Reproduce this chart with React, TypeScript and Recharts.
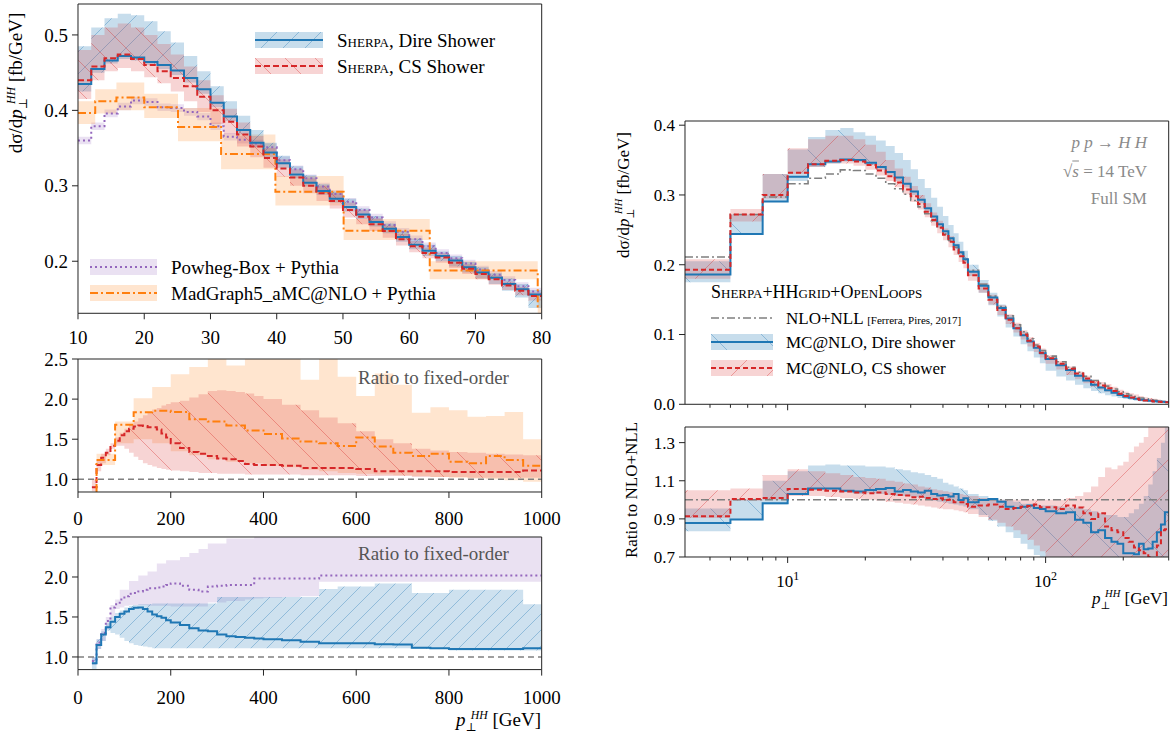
import React from 'react';
import { ComposedChart, Area, Line, XAxis, YAxis, ReferenceLine } from 'recharts';

const SERIF = '"Liberation Serif", "DejaVu Serif", serif';
const BLUE = '#1f77b4';
const RED = '#d62728';
const ORANGE = '#ff7f0e';
const PURPLE = '#9467bd';
const GREY = '#7f7f7f';
const FRAME = '#222';

// ---------- left top: dσ/dpT, 10-80 GeV ----------
const sherpaEdges = [10, 12, 14, 16, 18, 20, 22, 24, 26, 28, 30, 32, 34, 36, 38, 40, 42, 44, 46, 48, 50, 52, 54, 56, 58, 60, 62, 64, 66, 68, 70, 72, 74, 76, 78, 80];
const direVals = [0.435, 0.455, 0.466, 0.472, 0.470, 0.464, 0.460, 0.453, 0.443, 0.428, 0.410, 0.392, 0.374, 0.357, 0.344, 0.330, 0.315, 0.304, 0.293, 0.283, 0.272, 0.262, 0.252, 0.243, 0.232, 0.222, 0.214, 0.207, 0.201, 0.192, 0.185, 0.178, 0.170, 0.163, 0.156];
const direLo = [0.425, 0.45, 0.462, 0.468, 0.466, 0.46, 0.455, 0.447, 0.437, 0.422, 0.404, 0.386, 0.368, 0.351, 0.338, 0.324, 0.31, 0.299, 0.288, 0.278, 0.266, 0.256, 0.246, 0.237, 0.226, 0.216, 0.207, 0.2, 0.193, 0.185, 0.177, 0.17, 0.161, 0.152, 0.138];
const direHi = [0.485, 0.51, 0.522, 0.528, 0.526, 0.518, 0.505, 0.49, 0.472, 0.452, 0.432, 0.412, 0.393, 0.374, 0.357, 0.34, 0.326, 0.314, 0.302, 0.292, 0.283, 0.27, 0.26, 0.25, 0.24, 0.23, 0.222, 0.213, 0.207, 0.199, 0.192, 0.184, 0.177, 0.17, 0.162];
const csVals = [0.44, 0.458, 0.469, 0.474, 0.468, 0.460, 0.452, 0.443, 0.432, 0.418, 0.400, 0.385, 0.368, 0.352, 0.337, 0.323, 0.311, 0.300, 0.290, 0.280, 0.268, 0.259, 0.249, 0.240, 0.229, 0.220, 0.211, 0.205, 0.198, 0.190, 0.183, 0.176, 0.168, 0.161, 0.154];
const csLo = [0.415, 0.44, 0.452, 0.456, 0.452, 0.444, 0.436, 0.425, 0.412, 0.398, 0.382, 0.368, 0.352, 0.338, 0.324, 0.312, 0.3, 0.29, 0.28, 0.27, 0.258, 0.249, 0.24, 0.231, 0.221, 0.212, 0.204, 0.198, 0.191, 0.183, 0.176, 0.169, 0.162, 0.155, 0.148];
const csHi = [0.48, 0.5, 0.51, 0.515, 0.51, 0.5, 0.488, 0.474, 0.458, 0.44, 0.42, 0.402, 0.384, 0.366, 0.35, 0.335, 0.322, 0.31, 0.3, 0.29, 0.278, 0.268, 0.257, 0.247, 0.236, 0.227, 0.218, 0.211, 0.204, 0.196, 0.189, 0.181, 0.173, 0.166, 0.159];
const powhegVals = [0.360, 0.379, 0.396, 0.405, 0.413, 0.411, 0.404, 0.403, 0.398, 0.392, 0.379, 0.365, 0.361, 0.356, 0.351, 0.334, 0.322, 0.31, 0.299, 0.289, 0.279, 0.268, 0.258, 0.248, 0.239, 0.229, 0.22, 0.211, 0.204, 0.197, 0.189, 0.182, 0.175, 0.167, 0.16];
const powhegLo = [0.355, 0.374, 0.391, 0.4, 0.408, 0.406, 0.399, 0.398, 0.393, 0.387, 0.374, 0.36, 0.356, 0.351, 0.346, 0.329, 0.317, 0.305, 0.294, 0.284, 0.274, 0.263, 0.253, 0.243, 0.234, 0.224, 0.215, 0.206, 0.199, 0.192, 0.184, 0.177, 0.17, 0.162, 0.155];
const powhegHi = [0.365, 0.384, 0.401, 0.41, 0.418, 0.416, 0.409, 0.408, 0.403, 0.397, 0.384, 0.37, 0.366, 0.361, 0.356, 0.339, 0.327, 0.315, 0.304, 0.294, 0.284, 0.273, 0.263, 0.253, 0.244, 0.234, 0.225, 0.216, 0.209, 0.202, 0.194, 0.187, 0.18, 0.172, 0.165];
const mgEdges = [10, 12.6, 15.8, 20, 25.1, 31.6, 39.8, 50.1, 63.1, 79.4, 100];
const mgVals = [0.3965, 0.412, 0.417, 0.404, 0.378, 0.342, 0.292, 0.2405, 0.1877, 0.14];
const mgLo = [0.382, 0.396, 0.400, 0.390, 0.359, 0.322, 0.274, 0.228, 0.176, 0.128];
const mgHi = [0.412, 0.428, 0.437, 0.422, 0.403, 0.368, 0.313, 0.256, 0.200, 0.150];

// ---------- left ratio panels: ratio to fixed order, 0-1000 GeV ----------
const foEdges = [30, 40, 50, 60, 70, 80, 90, 100, 110, 120, 130, 140, 150, 160, 170, 180, 190, 200, 220, 240, 260, 280, 300, 320, 340, 360, 380, 400, 440, 480, 520, 560, 600, 640, 680, 720, 760, 800, 840, 880, 920, 960, 1000];
const csFO = [0.90, 1.18, 1.27, 1.33, 1.42, 1.48, 1.55, 1.6, 1.63, 1.66, 1.67, 1.665, 1.65, 1.65, 1.62, 1.57, 1.52, 1.45, 1.39, 1.34, 1.32, 1.29, 1.26, 1.25, 1.23, 1.19, 1.18, 1.18, 1.17, 1.14, 1.14, 1.14, 1.13, 1.10, 1.10, 1.10, 1.10, 1.09, 1.09, 1.09, 1.09, 1.11];
const csFOLo = [0.85, 1.1, 1.2, 1.3, 1.38, 1.42, 1.42, 1.38, 1.33, 1.28, 1.24, 1.2, 1.18, 1.16, 1.14, 1.13, 1.12, 1.11, 1.1, 1.09, 1.08, 1.08, 1.07, 1.07, 1.07, 1.06, 1.06, 1.06, 1.06, 1.05, 1.05, 1.05, 1.04, 1.04, 1.04, 1.03, 1.03, 1.03, 1.02, 1.02, 1.02, 1.02];
const csFOHi = [1.0, 1.25, 1.32, 1.38, 1.45, 1.52, 1.58, 1.63, 1.68, 1.72, 1.76, 1.8, 1.84, 1.87, 1.89, 1.92, 1.94, 1.96, 1.98, 2.02, 2.06, 2.1, 2.11, 2.1, 2.09, 2.07, 2.04, 2.0, 1.93, 1.86, 1.77, 1.7, 1.6, 1.5, 1.45, 1.38, 1.36, 1.34, 1.33, 1.32, 1.31, 1.3];
const mgFOEdges = [30, 40, 80, 120, 160, 200, 240, 280, 320, 360, 400, 440, 480, 520, 560, 600, 640, 680, 720, 760, 800, 840, 880, 920, 960, 1000];
const mgFO = [0.7, 1.24, 1.68, 1.835, 1.855, 1.84, 1.75, 1.72, 1.67, 1.61, 1.565, 1.51, 1.47, 1.45, 1.415, 1.52, 1.41, 1.33, 1.29, 1.32, 1.22, 1.20, 1.29, 1.24, 1.17];
const mgFOLo = [0.6, 1.18, 1.45, 1.5, 1.45, 1.35, 1.3, 1.25, 1.22, 1.2, 1.17, 1.15, 1.12, 1.1, 1.08, 1.07, 1.06, 1.05, 1.04, 1.03, 1.02, 1.01, 1.0, 0.99, 0.97];
const mgFOHi = [0.8, 1.32, 1.72, 2.01, 2.15, 2.31, 2.40, 2.6, 2.42, 2.6, 2.6, 2.6, 2.24, 2.6, 2.28, 2.04, 2.32, 2.18, 1.83, 1.90, 1.86, 1.78, 1.79, 1.84, 1.50];
const direFO = [0.92, 1.15, 1.28, 1.37, 1.44, 1.50, 1.54, 1.57, 1.60, 1.615, 1.62, 1.60, 1.57, 1.53, 1.51, 1.49, 1.46, 1.43, 1.40, 1.36, 1.33, 1.32, 1.28, 1.26, 1.25, 1.24, 1.23, 1.22, 1.21, 1.19, 1.17, 1.17, 1.17, 1.16, 1.155, 1.115, 1.11, 1.10, 1.10, 1.10, 1.10, 1.11];
const direFOLo = [0.85, 1.1, 1.2, 1.33, 1.3, 1.28, 1.24, 1.2, 1.17, 1.15, 1.14, 1.13, 1.12, 1.11, 1.11, 1.11, 1.11, 1.11, 1.11, 1.11, 1.11, 1.11, 1.11, 1.11, 1.11, 1.11, 1.11, 1.11, 1.11, 1.11, 1.11, 1.11, 1.11, 1.11, 1.11, 1.1, 1.1, 1.08, 1.08, 1.08, 1.08, 1.08];
const direFOHi = [1.0, 1.22, 1.32, 1.42, 1.5, 1.55, 1.58, 1.62, 1.64, 1.65, 1.66, 1.66, 1.66, 1.67, 1.67, 1.67, 1.67, 1.67, 1.67, 1.67, 1.67, 1.67, 1.75, 1.75, 1.75, 1.75, 1.75, 1.75, 1.75, 1.75, 1.85, 1.88, 1.88, 1.92, 1.92, 1.8, 1.8, 1.84, 1.84, 1.84, 1.84, 1.66];
const powhegFO = [0.95, 1.18, 1.30, 1.45, 1.62, 1.66, 1.72, 1.76, 1.79, 1.80, 1.82, 1.84, 1.86, 1.86, 1.87, 1.88, 1.90, 1.92, 1.89, 1.84, 1.82, 1.88, 1.89, 1.90, 1.90, 1.90, 1.98, 1.98, 1.98, 1.98, 2.02, 2.02, 2.02, 2.02, 2.02, 2.02, 2.02, 2.02, 2.02, 2.02, 2.02, 2.02];
const powhegFOLo = [0.9, 1.1, 1.2, 1.35, 1.5, 1.6, 1.62, 1.64, 1.65, 1.65, 1.65, 1.65, 1.64, 1.64, 1.64, 1.64, 1.64, 1.63, 1.63, 1.63, 1.63, 1.68, 1.68, 1.7, 1.7, 1.72, 1.73, 1.74, 1.75, 1.76, 1.94, 1.94, 1.94, 1.94, 1.94, 1.94, 1.94, 1.94, 1.94, 1.94, 1.94, 1.94];
const powhegFOHi = [1.0, 1.22, 1.35, 1.5, 1.65, 1.72, 1.84, 1.84, 1.95, 1.95, 2.02, 2.02, 2.07, 2.07, 2.17, 2.17, 2.21, 2.21, 2.25, 2.3, 2.35, 2.42, 2.42, 2.48, 2.48, 2.48, 2.6, 2.6, 2.6, 2.6, 2.6, 2.6, 2.6, 2.6, 2.6, 2.6, 2.6, 2.6, 2.6, 2.6, 2.6, 2.6];

// ---------- right panels: log pT, 4-300 GeV ----------
const rEdges = [4, 6, 8, 10, 12, 14, 16, 18, 20, 22, 24, 26, 28, 30, 32, 34, 36, 38, 40, 42, 44, 46, 48, 50, 55, 60, 65, 70, 75, 80, 85, 90, 95, 100, 110, 120, 130, 140, 150, 160, 170, 180, 190, 200, 210, 220, 230, 240, 250, 260, 270, 280, 290, 300];
const nllTop = [0.211, 0.272, 0.297, 0.316, 0.324, 0.330, 0.336, 0.335, 0.330, 0.324, 0.316, 0.309, 0.301, 0.292, 0.283, 0.273, 0.263, 0.254, 0.244, 0.235, 0.225, 0.216, 0.207, 0.192, 0.172, 0.155, 0.140, 0.127, 0.114, 0.104, 0.094, 0.085, 0.077, 0.069, 0.061, 0.053, 0.046, 0.040, 0.034, 0.030, 0.026, 0.022, 0.018, 0.015, 0.013, 0.011, 0.009, 0.0078, 0.0066, 0.0056, 0.0047, 0.004, 0.0034];
const direTop = [0.186, 0.244, 0.2905, 0.326, 0.344, 0.348, 0.351, 0.350, 0.346, 0.340, 0.333, 0.325, 0.316, 0.305, 0.293, 0.281, 0.269, 0.258, 0.248, 0.238, 0.228, 0.218, 0.208, 0.190, 0.170, 0.153, 0.138, 0.123, 0.109, 0.099, 0.090, 0.081, 0.073, 0.065, 0.056, 0.049, 0.041, 0.034, 0.028, 0.024, 0.020, 0.0167, 0.0134, 0.0108, 0.0093, 0.0079, 0.0065, 0.0058, 0.005, 0.0044, 0.0039, 0.0035, 0.0032];
const direTopLo = [0.175, 0.244, 0.29, 0.32, 0.34, 0.345, 0.348, 0.347, 0.343, 0.336, 0.329, 0.32, 0.311, 0.3, 0.288, 0.276, 0.264, 0.253, 0.243, 0.233, 0.223, 0.213, 0.203, 0.184, 0.16, 0.142, 0.126, 0.11, 0.097, 0.086, 0.076, 0.067, 0.059, 0.048, 0.04, 0.034, 0.028, 0.023, 0.019, 0.016, 0.013, 0.011, 0.009, 0.0075, 0.0062, 0.005, 0.0042, 0.0035, 0.003, 0.0025, 0.0021, 0.0018, 0.0015];
const direTopHi = [0.205, 0.272, 0.33, 0.365, 0.383, 0.393, 0.396, 0.39, 0.385, 0.378, 0.37, 0.36, 0.35, 0.337, 0.323, 0.31, 0.296, 0.283, 0.27, 0.257, 0.245, 0.233, 0.22, 0.2, 0.178, 0.16, 0.143, 0.128, 0.115, 0.104, 0.094, 0.085, 0.077, 0.068, 0.059, 0.051, 0.044, 0.037, 0.031, 0.026, 0.022, 0.018, 0.015, 0.012, 0.01, 0.0085, 0.0072, 0.0062, 0.0055, 0.005, 0.0046, 0.0044, 0.0043];
const csTop = [0.193, 0.272, 0.300, 0.332, 0.344, 0.349, 0.350, 0.348, 0.343, 0.335, 0.327, 0.318, 0.308, 0.298, 0.287, 0.276, 0.264, 0.253, 0.243, 0.233, 0.222, 0.212, 0.203, 0.185, 0.166, 0.150, 0.135, 0.121, 0.109, 0.100, 0.091, 0.083, 0.074, 0.066, 0.058, 0.051, 0.044, 0.037, 0.032, 0.027, 0.023, 0.019, 0.015, 0.012, 0.0098, 0.0081, 0.0065, 0.0055, 0.005, 0.0039, 0.0037, 0.0034, 0.0029];
const csTopLo = [0.18, 0.262, 0.295, 0.33, 0.34, 0.345, 0.345, 0.342, 0.336, 0.328, 0.32, 0.311, 0.301, 0.29, 0.279, 0.268, 0.256, 0.245, 0.235, 0.225, 0.214, 0.204, 0.195, 0.177, 0.16, 0.143, 0.128, 0.115, 0.103, 0.093, 0.083, 0.075, 0.067, 0.058, 0.05, 0.042, 0.036, 0.03, 0.025, 0.021, 0.018, 0.015, 0.012, 0.01, 0.0082, 0.0068, 0.0055, 0.0047, 0.004, 0.0034, 0.0028, 0.0024, 0.002];
const csTopHi = [0.208, 0.28, 0.33, 0.367, 0.38, 0.385, 0.385, 0.38, 0.372, 0.362, 0.35, 0.338, 0.326, 0.313, 0.3, 0.288, 0.275, 0.263, 0.252, 0.241, 0.23, 0.22, 0.21, 0.193, 0.174, 0.157, 0.142, 0.129, 0.117, 0.106, 0.096, 0.088, 0.08, 0.07, 0.062, 0.054, 0.047, 0.041, 0.035, 0.032, 0.029, 0.025, 0.021, 0.018, 0.016, 0.014, 0.012, 0.01, 0.009, 0.008, 0.0068, 0.0058, 0.005];
const direNll = [0.879, 0.897, 0.982, 1.03, 1.06, 1.06, 1.048, 1.044, 1.051, 1.057, 1.062, 1.044, 1.051, 1.044, 1.039, 1.048, 1.03, 1.022, 1.025, 1.018, 1.03, 0.999, 1.008, 0.987, 0.999, 1.004, 0.99, 0.964, 0.957, 0.964, 0.97, 0.957, 0.952, 0.94, 0.93, 0.935, 0.895, 0.88, 0.83, 0.84, 0.80, 0.78, 0.77, 0.72, 0.72, 0.715, 0.77, 0.74, 0.745, 0.78, 0.83, 0.87, 0.935];
const direNllLo = [0.835, 0.895, 0.975, 1.03, 1.05, 1.05, 1.04, 1.03, 1.035, 1.03, 1.025, 1.02, 1.02, 1.015, 1.01, 1.005, 0.995, 0.99, 0.985, 0.98, 0.975, 0.97, 0.965, 0.95, 0.92, 0.89, 0.86, 0.83, 0.80, 0.77, 0.74, 0.71, 0.68, 0.6, 0.6, 0.6, 0.6, 0.6, 0.6, 0.6, 0.6, 0.6, 0.6, 0.6, 0.6, 0.6, 0.6, 0.6, 0.6, 0.6, 0.6, 0.6, 0.6];
const direNllHi = [0.955, 1.0, 1.10, 1.15, 1.18, 1.185, 1.18, 1.18, 1.175, 1.175, 1.17, 1.16, 1.155, 1.145, 1.14, 1.13, 1.12, 1.11, 1.09, 1.08, 1.07, 1.06, 1.05, 1.03, 1.02, 1.01, 1.0, 0.995, 0.99, 0.98, 0.98, 0.975, 0.97, 0.97, 0.965, 0.96, 0.96, 0.95, 0.94, 0.93, 0.92, 0.92, 0.91, 0.91, 0.93, 0.95, 0.98, 1.02, 1.08, 1.15, 1.22, 1.3, 1.38];
const csNll = [0.914, 1.004, 1.01, 1.057, 1.053, 1.048, 1.044, 1.039, 1.034, 1.039, 1.03, 1.025, 1.022, 1.013, 1.016, 1.01, 1.004, 1.008, 0.999, 1.0, 0.987, 0.987, 0.978, 0.964, 0.97, 0.975, 0.964, 0.952, 0.957, 0.964, 0.968, 0.975, 0.961, 0.961, 0.952, 0.97, 0.96, 0.93, 0.90, 0.93, 0.86, 0.84, 0.83, 0.80, 0.78, 0.75, 0.735, 0.72, 0.70, 0.69, 0.76, 0.84, 0.845];
const csNllLo = [0.905, 0.995, 1.0, 1.02, 1.02, 1.015, 1.01, 1.005, 1.0, 0.995, 0.99, 0.985, 0.98, 0.975, 0.97, 0.965, 0.96, 0.955, 0.95, 0.95, 0.945, 0.94, 0.935, 0.925, 0.91, 0.895, 0.88, 0.86, 0.84, 0.82, 0.79, 0.76, 0.73, 0.7, 0.65, 0.6, 0.6, 0.6, 0.6, 0.6, 0.6, 0.6, 0.6, 0.6, 0.6, 0.6, 0.6, 0.6, 0.6, 0.6, 0.6, 0.6, 0.6];
const csNllHi = [1.05, 1.06, 1.13, 1.16, 1.15, 1.14, 1.13, 1.12, 1.115, 1.11, 1.10, 1.095, 1.085, 1.08, 1.07, 1.065, 1.055, 1.05, 1.045, 1.04, 1.035, 1.03, 1.025, 1.02, 1.01, 1.005, 1.0, 1.0, 1.0, 1.0, 1.0, 1.0, 1.0, 1.0, 1.0, 1.01, 1.02, 1.04, 1.07, 1.12, 1.17, 1.16, 1.18, 1.2, 1.25, 1.28, 1.3, 1.33, 1.4, 1.42, 1.45, 1.45, 1.45];

// tick values
const tlXTicks = [10, 20, 30, 40, 50, 60, 70, 80];
const tlYTicks = [0.2, 0.3, 0.4, 0.5];
const foXTicks = [0, 200, 400, 600, 800, 1000];
const foYTicks = [1.0, 1.5, 2.0, 2.5];
const logTicks = [5, 6, 7, 8, 9, 10, 20, 30, 40, 50, 60, 70, 80, 90, 100, 200, 300];
const trYTicks = [0, 0.1, 0.2, 0.3, 0.4];
const brYTicks = [0.7, 0.9, 1.1, 1.3];

const steps = (edges: number[], vals: number[]) =>
  edges.map((x, i) => ({ x, y: vals[Math.min(i, vals.length - 1)] }));
const band = (edges: number[], lo: number[], hi: number[]) =>
  edges.map((x, i) => {
    const j = Math.min(i, lo.length - 1);
    return { x, r: [lo[j], hi[j]] };
  });

function Hatch({ id, color, dir, size, bg }: { id: string; color: string; dir: string; size: number; bg: number }) {
  const s = size;
  const d = dir === '/'
    ? `M0,${s} L${s},0 M${-s / 2},${s / 2} L${s / 2},${-s / 2} M${s / 2},${s * 1.5} L${s * 1.5},${s / 2}`
    : `M0,0 L${s},${s} M${-s / 2},${s / 2} L${s / 2},${s * 1.5} M${s / 2},${-s / 2} L${s * 1.5},${s / 2}`;
  return (
    <pattern id={id} patternUnits="userSpaceOnUse" width={s} height={s}>
      <rect width={s} height={s} fill={color} fillOpacity={bg} />
      <path d={d} stroke={color} strokeOpacity={0.4} strokeWidth={0.9} fill="none" />
    </pattern>
  );
}

const YW = 70;
const PADT = 14;
const PADR = 28;
const XH = 48;

type PanelProps = {
  left: number; top: number; w: number; h: number;
  xDomain: [number, number]; yDomain: [number, number];
  xLog?: boolean; xTicks: number[]; yTicks: number[];
  xLabel?: (v: number) => React.ReactNode; yLabel: (v: number) => string;
  xMajor?: (v: number) => boolean; gap: number; fs: number;
  children: React.ReactNode;
};

function Panel({ left, top, w, h, xDomain, yDomain, xLog, xTicks, yTicks, xLabel, yLabel, xMajor, gap, fs, children }: PanelProps) {
  const xTick = (p: any) => {
    const v = p.payload.value;
    const major = xMajor ? xMajor(v) : true;
    const lab = xLabel ? xLabel(v) : null;
    return (
      <g>
        <line x1={p.x} x2={p.x} y1={p.y} y2={p.y + (major ? 6 : 3.5)} stroke={FRAME} />
        {lab !== null && (
          <text x={p.x} y={p.y + gap} textAnchor="middle" fontSize={fs} fontFamily={SERIF} fill="#000">{lab}</text>
        )}
      </g>
    );
  };
  const yTick = (p: any) => (
    <g>
      <line x1={p.x - 6} x2={p.x} y1={p.y} y2={p.y} stroke={FRAME} />
      <text x={p.x - 10} y={p.y} dy="0.35em" textAnchor="end" fontSize={fs} fontFamily={SERIF} fill="#000">
        {yLabel(p.payload.value)}
      </text>
    </g>
  );
  return (
    <div style={{ position: 'absolute', left: left - YW, top: top - PADT }}>
      <ComposedChart width={w + YW + PADR} height={h + PADT + XH} margin={{ top: PADT, right: PADR, bottom: 0, left: 0 }}>
        <XAxis dataKey="x" type="number" scale={xLog ? 'log' : 'linear'} domain={xDomain} allowDataOverflow
          ticks={xTicks} interval={0} height={XH} tickSize={0} tickMargin={0} tickLine={false}
          axisLine={{ stroke: FRAME }} tick={xTick} />
        <YAxis type="number" domain={yDomain} allowDataOverflow ticks={yTicks} interval={0} width={YW}
          tickSize={0} tickMargin={0} tickLine={false} axisLine={{ stroke: FRAME }} tick={yTick} />
        {children}
        <ReferenceLine y={yDomain[1]} stroke={FRAME} />
        <ReferenceLine x={xDomain[1]} stroke={FRAME} />
      </ComposedChart>
    </div>
  );
}

const Txt = ({ x, y, children, size = 19, color = '#000', right = false, style = {} }: any) => (
  <div style={{
    position: 'absolute', left: x, top: y, transform: `translate(${right ? '-100%' : '0'}, -50%)`,
    fontFamily: SERIF, fontSize: size, color, whiteSpace: 'nowrap', lineHeight: 1, ...style,
  }}>{children}</div>
);

const VTxt = ({ x, y, children, size = 18 }: any) => (
  <div style={{
    position: 'absolute', left: x, top: y, transform: 'translate(-50%, -50%) rotate(-90deg)',
    fontFamily: SERIF, fontSize: size, whiteSpace: 'nowrap', lineHeight: 1,
  }}>{children}</div>
);

const Swatch = ({ x, y, w, h = 16, fill, stroke, dash, sw = 2 }: any) => (
  <svg style={{ position: 'absolute', left: x, top: y - h / 2 }} width={w} height={h}>
    {fill && <rect width={w} height={h} fill={fill} />}
    <line x1={0} x2={w} y1={h / 2} y2={h / 2} stroke={stroke} strokeDasharray={dash} strokeWidth={sw} />
  </svg>
);

const PT = () => (
  <span>
    <i>p</i>
    <sub style={{ fontSize: '0.62em' }}>⊥</sub>
    <sup style={{ fontSize: '0.62em', marginLeft: '-0.5em' }}><i>HH</i></sup>
  </span>
);

const SC = ({ children }: any) => <span style={{ fontVariant: 'small-caps' }}>{children}</span>;

const f1 = (v: number) => v.toFixed(1);
const logLabel = (v: number) =>
  v === 10 ? <><tspan>10</tspan><tspan dy={-7} fontSize={12}>1</tspan></> :
  v === 100 ? <><tspan>10</tspan><tspan dy={-7} fontSize={12}>2</tspan></> : null;
const logMajor = (v: number) => v === 10 || v === 100;

export default function App() {
  return (
    <div style={{ position: 'absolute', left: 0, top: 0, width: 1174, height: 734, background: '#fff', overflow: 'hidden', fontFamily: SERIF }}>
      <svg width={0} height={0} style={{ position: 'absolute' }}>
        <defs>
          <Hatch id="tlDire" color={BLUE} dir="/" size={22} bg={0.25} />
          <Hatch id="tlCS" color={RED} dir="\" size={30} bg={0.2} />
          <Hatch id="mlCS" color={RED} dir="\" size={38} bg={0.2} />
          <Hatch id="blDire" color={BLUE} dir="/" size={16} bg={0.22} />
          <Hatch id="trDire" color={BLUE} dir="\" size={50} bg={0.25} />
          <Hatch id="trCS" color={RED} dir="/" size={36} bg={0.2} />
          <Hatch id="brDire" color={BLUE} dir="\" size={45} bg={0.25} />
          <Hatch id="brCS" color={RED} dir="/" size={30} bg={0.2} />
        </defs>
      </svg>

      {/* left top */}
      <Panel left={78} top={4} w={463.7} h={309.3} xDomain={[10, 80]} yDomain={[0.131, 0.541]}
        xTicks={tlXTicks} yTicks={tlYTicks} xLabel={(v) => String(v)} yLabel={f1} gap={31} fs={19}>
        <Area data={band(sherpaEdges, powhegLo, powhegHi)} dataKey="r" type="stepAfter" stroke="none" fill={PURPLE} fillOpacity={0.2} isAnimationActive={false} />
        <Area data={band(mgEdges, mgLo, mgHi)} dataKey="r" type="stepAfter" stroke="none" fill={ORANGE} fillOpacity={0.2} isAnimationActive={false} />
        <Area data={band(sherpaEdges, direLo, direHi)} dataKey="r" type="stepAfter" stroke="none" fill="url(#tlDire)" fillOpacity={1} isAnimationActive={false} />
        <Area data={band(sherpaEdges, csLo, csHi)} dataKey="r" type="stepAfter" stroke="none" fill="url(#tlCS)" fillOpacity={1} isAnimationActive={false} />
        <Line data={steps(sherpaEdges, powhegVals)} dataKey="y" type="stepAfter" stroke={PURPLE} strokeWidth={2} strokeDasharray="2 3" dot={false} isAnimationActive={false} />
        <Line data={steps(mgEdges, mgVals)} dataKey="y" type="stepAfter" stroke={ORANGE} strokeWidth={2} strokeDasharray="8 3 2 3" dot={false} isAnimationActive={false} />
        <Line data={steps(sherpaEdges, direVals)} dataKey="y" type="stepAfter" stroke={BLUE} strokeWidth={2} dot={false} isAnimationActive={false} />
        <Line data={steps(sherpaEdges, csVals)} dataKey="y" type="stepAfter" stroke={RED} strokeWidth={2} strokeDasharray="6 3" dot={false} isAnimationActive={false} />
      </Panel>

      {/* left middle */}
      <Panel left={78} top={359} w={463.7} h={133} xDomain={[0, 1000]} yDomain={[0.842, 2.5]}
        xTicks={foXTicks} yTicks={foYTicks} xLabel={(v) => String(v)} yLabel={f1} gap={33} fs={19}>
        <Area data={band(mgFOEdges, mgFOLo, mgFOHi)} dataKey="r" type="stepAfter" stroke="none" fill={ORANGE} fillOpacity={0.2} isAnimationActive={false} />
        <Area data={band(foEdges, csFOLo, csFOHi)} dataKey="r" type="stepAfter" stroke="none" fill="url(#mlCS)" fillOpacity={1} isAnimationActive={false} />
        <ReferenceLine y={1} stroke="#808080" strokeWidth={1.5} strokeDasharray="6 4" />
        <Line data={steps(foEdges, csFO)} dataKey="y" type="stepAfter" stroke={RED} strokeWidth={2} strokeDasharray="6 3" dot={false} isAnimationActive={false} />
        <Line data={steps(mgFOEdges, mgFO)} dataKey="y" type="stepAfter" stroke={ORANGE} strokeWidth={2} strokeDasharray="8 3 2 3" dot={false} isAnimationActive={false} />
      </Panel>

      {/* left bottom */}
      <Panel left={78} top={536.7} w={463.7} h={132.6} xDomain={[0, 1000]} yDomain={[0.842, 2.5]}
        xTicks={foXTicks} yTicks={foYTicks} xLabel={(v) => String(v)} yLabel={f1} gap={34} fs={19}>
        <Area data={band(foEdges, powhegFOLo, powhegFOHi)} dataKey="r" type="stepAfter" stroke="none" fill={PURPLE} fillOpacity={0.2} isAnimationActive={false} />
        <Area data={band(foEdges, direFOLo, direFOHi)} dataKey="r" type="stepAfter" stroke="none" fill="url(#blDire)" fillOpacity={1} isAnimationActive={false} />
        <ReferenceLine y={1} stroke="#808080" strokeWidth={1.5} strokeDasharray="6 4" />
        <Line data={steps(foEdges, powhegFO)} dataKey="y" type="stepAfter" stroke={PURPLE} strokeWidth={2} strokeDasharray="2 3" dot={false} isAnimationActive={false} />
        <Line data={steps(foEdges, direFO)} dataKey="y" type="stepAfter" stroke={BLUE} strokeWidth={2} dot={false} isAnimationActive={false} />
      </Panel>

      {/* right top */}
      <Panel left={685} top={120.7} w={483.7} h={283.3} xDomain={[4, 300]} yDomain={[0, 0.406]} xLog
        xTicks={logTicks} yTicks={trYTicks} xMajor={logMajor} yLabel={f1} gap={30} fs={17}>
        <Area data={band(rEdges, direTopLo, direTopHi)} dataKey="r" type="stepAfter" stroke="none" fill="url(#trDire)" fillOpacity={1} isAnimationActive={false} />
        <Area data={band(rEdges, csTopLo, csTopHi)} dataKey="r" type="stepAfter" stroke="none" fill="url(#trCS)" fillOpacity={1} isAnimationActive={false} />
        <Line data={steps(rEdges, nllTop)} dataKey="y" type="stepAfter" stroke={GREY} strokeWidth={1.6} strokeDasharray="8 3 2 3" dot={false} isAnimationActive={false} />
        <Line data={steps(rEdges, direTop)} dataKey="y" type="stepAfter" stroke={BLUE} strokeWidth={2} dot={false} isAnimationActive={false} />
        <Line data={steps(rEdges, csTop)} dataKey="y" type="stepAfter" stroke={RED} strokeWidth={2} strokeDasharray="5 3" dot={false} isAnimationActive={false} />
      </Panel>

      {/* right bottom */}
      <Panel left={685} top={426.7} w={483.7} h={130} xDomain={[4, 300]} yDomain={[0.7, 1.382]} xLog
        xTicks={logTicks} yTicks={brYTicks} xMajor={logMajor} xLabel={logLabel} yLabel={f1} gap={30} fs={17}>
        <Area data={band(rEdges, direNllLo, direNllHi)} dataKey="r" type="stepAfter" stroke="none" fill="url(#brDire)" fillOpacity={1} isAnimationActive={false} />
        <Area data={band(rEdges, csNllLo, csNllHi)} dataKey="r" type="stepAfter" stroke="none" fill="url(#brCS)" fillOpacity={1} isAnimationActive={false} />
        <ReferenceLine y={1} stroke={GREY} strokeWidth={1.6} strokeDasharray="8 3 2 3" />
        <Line data={steps(rEdges, direNll)} dataKey="y" type="stepAfter" stroke={BLUE} strokeWidth={2} dot={false} isAnimationActive={false} />
        <Line data={steps(rEdges, csNll)} dataKey="y" type="stepAfter" stroke={RED} strokeWidth={2} strokeDasharray="5 3" dot={false} isAnimationActive={false} />
      </Panel>

      {/* left labels and legends */}
      <VTxt x={18} y={83} size={19}>dσ/d<PT /> [fb/GeV]</VTxt>
      <Swatch x={255} y={40} w={68} fill="url(#tlDire)" stroke={BLUE} />
      <Txt x={337} y={40}><SC>Sherpa</SC>, Dire Shower</Txt>
      <Swatch x={255} y={66} w={68} fill="url(#tlCS)" stroke={RED} dash="6 3" />
      <Txt x={337} y={66}><SC>Sherpa</SC>, CS Shower</Txt>
      <Swatch x={90} y={267} w={67} fill="rgba(148,103,189,0.2)" stroke={PURPLE} dash="2 3" />
      <Txt x={171} y={267}>Powheg-Box + Pythia</Txt>
      <Swatch x={90} y={293} w={67} fill="rgba(255,127,14,0.2)" stroke={ORANGE} dash="8 3 2 3" />
      <Txt x={171} y={293}>MadGraph5_aMC@NLO + Pythia</Txt>
      <Txt x={358} y={377} color="#555">Ratio to fixed-order</Txt>
      <Txt x={358} y={553} color="#555">Ratio to fixed-order</Txt>
      <Txt x={541} y={722} right><PT /> [GeV]</Txt>

      {/* right labels and legends */}
      <VTxt x={625} y={195} size={17}>dσ/d<PT /> [fb/GeV]</VTxt>
      <VTxt x={631} y={490} size={17}>Ratio to NLO+NLL</VTxt>
      <Txt x={1147} y={142} right size={17} color="#8a8a8a"><i>p p</i> → <i>H H</i></Txt>
      <Txt x={1147} y={171} right size={17} color="#8a8a8a">√<span style={{ textDecoration: 'overline' }}><i>s</i></span> = 14 TeV</Txt>
      <Txt x={1147} y={198} right size={17} color="#8a8a8a">Full SM</Txt>
      <Txt x={711} y={292} size={18}><SC>Sherpa+HHgrid+OpenLoops</SC></Txt>
      <Swatch x={711} y={318} w={62} stroke={GREY} dash="8 3 2 3" sw={1.6} />
      <Txt x={786} y={318} size={17}>NLO+NLL <span style={{ fontSize: 11 }}>[Ferrera, Pires, 2017]</span></Txt>
      <Swatch x={711} y={342} w={62} fill="url(#trDire)" stroke={BLUE} />
      <Txt x={786} y={342} size={17}>MC@NLO, Dire shower</Txt>
      <Swatch x={711} y={368} w={62} fill="url(#trCS)" stroke={RED} dash="5 3" />
      <Txt x={786} y={368} size={17}>MC@NLO, CS shower</Txt>
      <Txt x={1168} y={600} right size={17}><PT /> [GeV]</Txt>
    </div>
  );
}
